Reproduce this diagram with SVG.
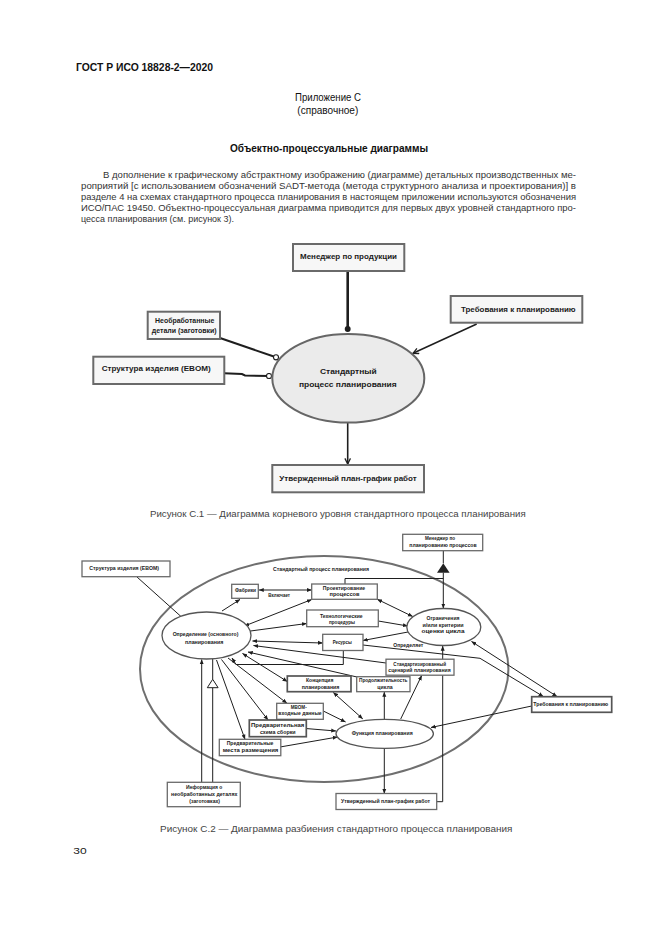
<svg xmlns="http://www.w3.org/2000/svg" width="661" height="935" viewBox="0 0 661 935">
<defs>
<style>
text{font-family:"Liberation Sans",Arial,sans-serif;fill:#1a1a1a}
.hdr{font-size:10.5px;font-weight:bold;fill:#111}
.ttl{font-size:10px;fill:#111}
.ttlb{font-size:10px;font-weight:bold;fill:#111}
.par{font-size:9.4px;fill:#333}
.cap{font-size:9px;fill:#444;text-anchor:middle}
.b1{font-size:8px;font-weight:bold;text-anchor:middle}
.b2{font-size:5.4px;font-weight:bold;text-anchor:middle}
.box1{fill:#f7f7f7;stroke:#6a6a6a;stroke-width:2}
.box2{fill:#fff;stroke:#6a6a6a;stroke-width:1.3}
.box2d{fill:#fff;stroke:#555;stroke-width:1.7}
.ln1{fill:none;stroke:#1e1e1e}
.ln2{fill:none;stroke:#1e1e1e;stroke-width:1}
</style>
<marker id="v" viewBox="0 0 10 10" refX="9" refY="5" markerWidth="7" markerHeight="7" markerUnits="userSpaceOnUse" orient="auto-start-reverse"><path d="M1,1 L9,5 L1,9" fill="none" stroke="#1e1e1e" stroke-width="1.8"/></marker>
<marker id="dot" viewBox="0 0 10 10" refX="5" refY="5" markerWidth="7" markerHeight="7" markerUnits="userSpaceOnUse"><circle cx="5" cy="5" r="4.2" fill="#1e1e1e"/></marker>
<marker id="oc" viewBox="0 0 10 10" refX="5" refY="5" markerWidth="7" markerHeight="7" markerUnits="userSpaceOnUse"><circle cx="5" cy="5" r="3.6" fill="#fff" stroke="#1e1e1e" stroke-width="1.6"/></marker>
<marker id="a" viewBox="0 0 10 10" refX="9.5" refY="5" markerWidth="5" markerHeight="5" markerUnits="userSpaceOnUse" orient="auto-start-reverse"><path d="M0,1 L10,5 L0,9 z" fill="#1e1e1e"/></marker>
</defs>
<rect width="661" height="935" fill="#fff"/>

<!-- page text -->
<text class="hdr" x="76" y="71" textLength="137" lengthAdjust="spacingAndGlyphs">ГОСТ Р ИСО 18828-2—2020</text>
<text class="ttl" x="295" y="101" textLength="66" lengthAdjust="spacingAndGlyphs">Приложение С</text>
<text class="ttl" x="297.3" y="114" textLength="61" lengthAdjust="spacingAndGlyphs">(справочное)</text>
<text class="ttlb" x="230" y="152.3" textLength="198" lengthAdjust="spacingAndGlyphs">Объектно-процессуальные диаграммы</text>
<text class="par" x="103" y="177.7" textLength="473" lengthAdjust="spacingAndGlyphs">В дополнение к графическому абстрактному изображению (диаграмме) детальных производственных ме-</text>
<text class="par" x="81" y="188.8" textLength="495" lengthAdjust="spacingAndGlyphs">роприятий [с использованием обозначений SADT-метода (метода структурного анализа и проектирования)] в</text>
<text class="par" x="81" y="200" textLength="495" lengthAdjust="spacingAndGlyphs">разделе 4 на схемах стандартного процесса планирования в настоящем приложении используются обозначения</text>
<text class="par" x="81" y="211.2" textLength="495" lengthAdjust="spacingAndGlyphs">ИСО/ПАС 19450. Объектно-процессуальная диаграмма приводится для первых двух уровней стандартного про-</text>
<text class="par" x="81" y="222.4" textLength="153" lengthAdjust="spacingAndGlyphs">цесса планирования (см. рисунок 3).</text>

<!-- Figure C.1 -->
<g id="c1-connectors">
<path class="ln1" d="M347.7,271 L347.7,329" stroke-width="2.6" marker-end="url(#dot)"/>
<path class="ln1" d="M476.7,324 L413,353.3" stroke-width="1.5" marker-end="url(#v)"/>
<path class="ln1" d="M220,338 L276,357.3" stroke-width="2" marker-end="url(#oc)"/>
<path class="ln1" d="M224,373.3 L242,374 L245,375.5 L269,376" stroke-width="2" marker-end="url(#oc)"/>
<path class="ln1" d="M347.7,422.7 L347.7,464" stroke-width="1.6" marker-end="url(#v)"/>
</g>
<g id="c1-manager">
<rect class="box1" x="293" y="244" width="111.3" height="27"/>
<text class="b1" x="348.5" y="259.3" textLength="97" lengthAdjust="spacingAndGlyphs">Менеджер по продукции</text>
</g>
<g id="c1-requirements">
<rect class="box1" x="450.7" y="296" width="131.6" height="26.7"/>
<text class="b1" x="518.3" y="312" textLength="114.7" lengthAdjust="spacingAndGlyphs">Требования к планированию</text>
</g>
<g id="c1-rawparts">
<rect class="box1" x="147.7" y="311.7" width="72.3" height="27.3"/>
<text class="b1" x="184.7" y="323.3" textLength="59.3" lengthAdjust="spacingAndGlyphs">Необработанные</text>
<text class="b1" x="184.2" y="332.7" textLength="65" lengthAdjust="spacingAndGlyphs">детали (заготовки)</text>
</g>
<g id="c1-ebom">
<rect class="box1" x="93.3" y="356.7" width="131" height="27.3"/>
<text class="b1" x="156.2" y="370.7" textLength="109" lengthAdjust="spacingAndGlyphs">Структура изделия (EBOM)</text>
</g>
<g id="c1-process">
<ellipse cx="348.3" cy="378.3" rx="76" ry="44.3" fill="#ebebeb" stroke="#666" stroke-width="2"/>
<text class="b1" x="348.3" y="374.3" textLength="56.7" lengthAdjust="spacingAndGlyphs">Стандартный</text>
<text class="b1" x="347.8" y="386.7" textLength="97.7" lengthAdjust="spacingAndGlyphs">процесс планирования</text>
</g>
<g id="c1-schedule">
<rect class="box1" x="272.3" y="465" width="151.7" height="27.3"/>
<text class="b1" x="348" y="480.7" textLength="137.3" lengthAdjust="spacingAndGlyphs">Утвержденный план-график работ</text>
</g>
<text class="cap" x="337.8" y="516.7" textLength="375.7" lengthAdjust="spacingAndGlyphs">Рисунок С.1 — Диаграмма корневого уровня стандартного процесса планирования</text>

<!-- Figure C.2 -->
<g id="c2-boundary">
<ellipse cx="324.2" cy="669" rx="184.2" ry="113" fill="none" stroke="#6f6f6f" stroke-width="2"/>
<text class="b2" x="321" y="571" textLength="96" lengthAdjust="spacingAndGlyphs">Стандартный процесс планирования</text>
</g>
<g id="c2-connectors">
<path class="ln2" d="M137,577 L186,621" stroke-width="1.4" marker-end="url(#a)"/>
<path class="ln2" d="M222,611 L240,599.5" stroke-width="1.4" marker-end="url(#a)"/>
<path class="ln2" d="M259,590 L311.5,590" stroke-width="1.2" marker-start="url(#a)" marker-end="url(#a)"/>
<path class="ln2" d="M244.5,626 L311.7,599.5" marker-start="url(#a)" marker-end="url(#a)"/>
<path class="ln2" d="M250.5,631 L306.7,623.5" marker-end="url(#a)"/>
<path class="ln2" d="M252.5,641 L322.7,643" marker-start="url(#a)" marker-end="url(#a)"/>
<path class="ln2" d="M386,663 L253.5,645.5" marker-end="url(#a)"/>
<path class="ln2" d="M343.3,650.5 L343.3,664.5 L236,664.5 L232,658" marker-end="url(#a)"/>
<path class="ln2" d="M357,677 L248,652" marker-end="url(#a)"/>
<path class="ln2" d="M242.5,653.5 L287.3,681.5" marker-start="url(#a)" marker-end="url(#a)"/>
<path class="ln2" d="M228,658 L287,703.3" marker-end="url(#a)"/>
<path class="ln2" d="M221.5,659.5 L268,720" marker-end="url(#a)"/>
<path class="ln2" d="M216.5,660 L245,739.3" marker-end="url(#a)"/>
<path class="ln2" d="M201.7,782.3 L201.7,659.5" stroke-width="1.5" marker-end="url(#a)"/>
<path class="ln2" d="M212.7,782.3 L212.7,687.7 M212.7,679.3 L212.7,659"/>
<polygon points="212.7,679.3 207.3,687.7 218.1,687.7" fill="#fff" stroke="#1e1e1e" stroke-width="1"/>
<path class="ln2" d="M333.3,692.5 L362.7,718.8" marker-start="url(#a)" marker-end="url(#a)"/>
<path class="ln2" d="M323.3,711 L345.5,722" marker-end="url(#a)"/>
<path class="ln2" d="M305.7,728.5 L336,731" marker-end="url(#a)"/>
<path class="ln2" d="M280,747 L337.5,737" marker-end="url(#a)"/>
<path class="ln2" d="M384.3,719.3 L384.3,692" marker-end="url(#a)"/>
<path class="ln2" d="M400.7,719 L421.7,675.5" marker-end="url(#a)"/>
<path class="ln2" d="M384.3,748.3 L384.3,793.5" marker-end="url(#a)"/>
<path class="ln2" d="M436.7,801.7 L442.7,801.7 L442.7,646" marker-end="url(#a)"/>
<path class="ln2" d="M531.7,706 L431,727.5" marker-end="url(#a)"/>
<path class="ln2" d="M471.5,641.5 L557,696.5" marker-start="url(#a)" marker-end="url(#a)"/>
<path class="ln2" d="M363,645 L480,658.3 L543.3,696.5" marker-end="url(#a)"/>
<path class="ln2" d="M377.3,599.3 L412.7,616.5" marker-start="url(#a)" marker-end="url(#a)"/>
<path class="ln2" d="M378.3,621 L407.7,626" marker-end="url(#a)"/>
<path class="ln2" d="M363,640.5 L413.3,631" marker-start="url(#a)" marker-end="url(#a)"/>
<path class="ln2" d="M443.3,550.7 L443.3,563.3 M443.3,572.7 L443.3,608.3" marker-end="url(#a)"/>
<path class="ln2" d="M443.3,578.5 L345,578.5 L345,584"/>
<polygon points="443.3,563.3 437,572.7 449.6,572.7" fill="#222"/>
<text class="b2" x="279.2" y="597" textLength="21.7" lengthAdjust="spacingAndGlyphs">Включает</text>
<text class="b2" x="408.3" y="646.7" textLength="30" lengthAdjust="spacingAndGlyphs">Определяет</text>
</g>
<g id="c2-ebom">
<rect class="box2" x="82" y="561" width="88" height="15.7"/>
<text class="b2" x="124.2" y="570" textLength="69.7" lengthAdjust="spacingAndGlyphs">Структура изделия (EBOM)</text>
</g>
<g id="c2-manager">
<rect class="box2" x="402.7" y="534.3" width="80" height="16.4"/>
<text class="b2" x="440" y="540.3" textLength="30" lengthAdjust="spacingAndGlyphs">Менеджер по</text>
<text class="b2" x="443" y="547" textLength="67.3" lengthAdjust="spacingAndGlyphs">планированию процессов</text>
</g>
<g id="c2-plants">
<rect class="box2" x="231.7" y="584.3" width="26.6" height="14"/>
<text class="b2" x="245.5" y="592.3" textLength="21" lengthAdjust="spacingAndGlyphs">Фабрики</text>
</g>
<g id="c2-processes">
<rect class="box2" x="311.7" y="584" width="65.6" height="15.3"/>
<text class="b2" x="344" y="589.7" textLength="42.3" lengthAdjust="spacingAndGlyphs">Проектирование</text>
<text class="b2" x="344.5" y="595.7" textLength="30" lengthAdjust="spacingAndGlyphs">процессов</text>
</g>
<g id="c2-procedures">
<rect class="box2" x="306.7" y="610" width="71.6" height="16.7"/>
<text class="b2" x="341.3" y="617.7" textLength="42.7" lengthAdjust="spacingAndGlyphs">Технологические</text>
<text class="b2" x="342" y="623.5" textLength="26" lengthAdjust="spacingAndGlyphs">процедуры</text>
</g>
<g id="c2-resources">
<rect class="box2" x="322.7" y="634.3" width="40.3" height="16.2"/>
<text class="b2" x="342.2" y="644.2" textLength="19" lengthAdjust="spacingAndGlyphs">Ресурсы</text>
</g>
<g id="c2-basic">
<ellipse cx="206.5" cy="635.5" rx="44.5" ry="23.5" fill="#fff" stroke="#555" stroke-width="1.3"/>
<text class="b2" x="205.5" y="636.3" textLength="65.7" lengthAdjust="spacingAndGlyphs">Определение (основного)</text>
<text class="b2" x="204.2" y="644.3" textLength="38.3" lengthAdjust="spacingAndGlyphs">планирования</text>
</g>
<g id="c2-constraints">
<ellipse cx="443.8" cy="627" rx="37" ry="18.5" fill="#fff" stroke="#555" stroke-width="1.3"/>
<text class="b2" x="443" y="620.3" textLength="33" lengthAdjust="spacingAndGlyphs">Ограничения</text>
<text class="b2" x="443" y="626.7" textLength="41" lengthAdjust="spacingAndGlyphs">и/или критерии</text>
<text class="b2" x="443" y="632.8" textLength="43" lengthAdjust="spacingAndGlyphs">оценки цикла</text>
</g>
<g id="c2-scenario">
<rect class="box2" x="386" y="659.2" width="68" height="16"/>
<text class="b2" x="419.7" y="665.6" textLength="52.7" lengthAdjust="spacingAndGlyphs">Стандартизированный</text>
<text class="b2" x="419.5" y="671.8" textLength="62.3" lengthAdjust="spacingAndGlyphs">сценарий планирования</text>
</g>
<g id="c2-concept">
<rect class="box2d" x="287.3" y="676" width="63.7" height="15.7"/>
<text class="b2" x="319.7" y="682.3" textLength="27.3" lengthAdjust="spacingAndGlyphs">Концепция</text>
<text class="b2" x="320.5" y="688.7" textLength="37.7" lengthAdjust="spacingAndGlyphs">планирования</text>
</g>
<g id="c2-cycle">
<rect class="box2" x="356.7" y="676.7" width="53.3" height="15"/>
<text class="b2" x="383.2" y="682.3" textLength="48.3" lengthAdjust="spacingAndGlyphs">Продолжительность</text>
<text class="b2" x="385" y="688.7" textLength="15.3" lengthAdjust="spacingAndGlyphs">цикла</text>
</g>
<g id="c2-mbom">
<rect class="box2" x="276.7" y="703.3" width="46.6" height="16"/>
<text class="b2" x="298.7" y="709" textLength="16" lengthAdjust="spacingAndGlyphs">MBOM-</text>
<text class="b2" x="300" y="715.3" textLength="43.3" lengthAdjust="spacingAndGlyphs">входные данные</text>
</g>
<g id="c2-assembly">
<rect class="box2d" x="249.3" y="720" width="57" height="16.7"/>
<text class="b2" x="277.7" y="727" textLength="53.3" lengthAdjust="spacingAndGlyphs">Предварительная</text>
<text class="b2" x="277.8" y="733.7" textLength="35.7" lengthAdjust="spacingAndGlyphs">схема сборки</text>
</g>
<g id="c2-locations">
<rect class="box2" x="219.3" y="739.3" width="61.5" height="16.4"/>
<text class="b2" x="250" y="745.3" textLength="46.7" lengthAdjust="spacingAndGlyphs">Предварительные</text>
<text class="b2" x="250.5" y="752.3" textLength="55.7" lengthAdjust="spacingAndGlyphs">места размещения</text>
</g>
<g id="c2-function">
<ellipse cx="384.7" cy="733.8" rx="48.7" ry="14.5" fill="#fff" stroke="#555" stroke-width="1.3"/>
<text class="b2" x="382.2" y="735" textLength="61" lengthAdjust="spacingAndGlyphs">Функция планирования</text>
</g>
<g id="c2-requirements">
<rect class="box2d" x="531.7" y="696.7" width="80" height="15.6"/>
<text class="b2" x="570.8" y="705.8" textLength="75" lengthAdjust="spacingAndGlyphs">Требования к планированию</text>
</g>
<g id="c2-rawinfo">
<rect class="box2" x="167.3" y="782.3" width="73" height="24.4"/>
<text class="b2" x="204.2" y="788.5" textLength="36.3" lengthAdjust="spacingAndGlyphs">Информация о</text>
<text class="b2" x="204.2" y="796" textLength="66.3" lengthAdjust="spacingAndGlyphs">необработанных деталях</text>
<text class="b2" x="204.7" y="802.8" textLength="30.7" lengthAdjust="spacingAndGlyphs">(заготовках)</text>
</g>
<g id="c2-schedule">
<rect class="box2" x="336" y="793.5" width="100.7" height="16"/>
<text class="b2" x="385.5" y="802.8" textLength="89" lengthAdjust="spacingAndGlyphs">Утвержденный план-график работ</text>
</g>
<text class="cap" x="336.2" y="832.3" textLength="352.3" lengthAdjust="spacingAndGlyphs">Рисунок С.2 — Диаграмма разбиения стандартного процесса планирования</text>
<text x="73.3" y="854" font-size="9.5" fill="#444" textLength="13.4" lengthAdjust="spacingAndGlyphs">30</text>
</svg>
